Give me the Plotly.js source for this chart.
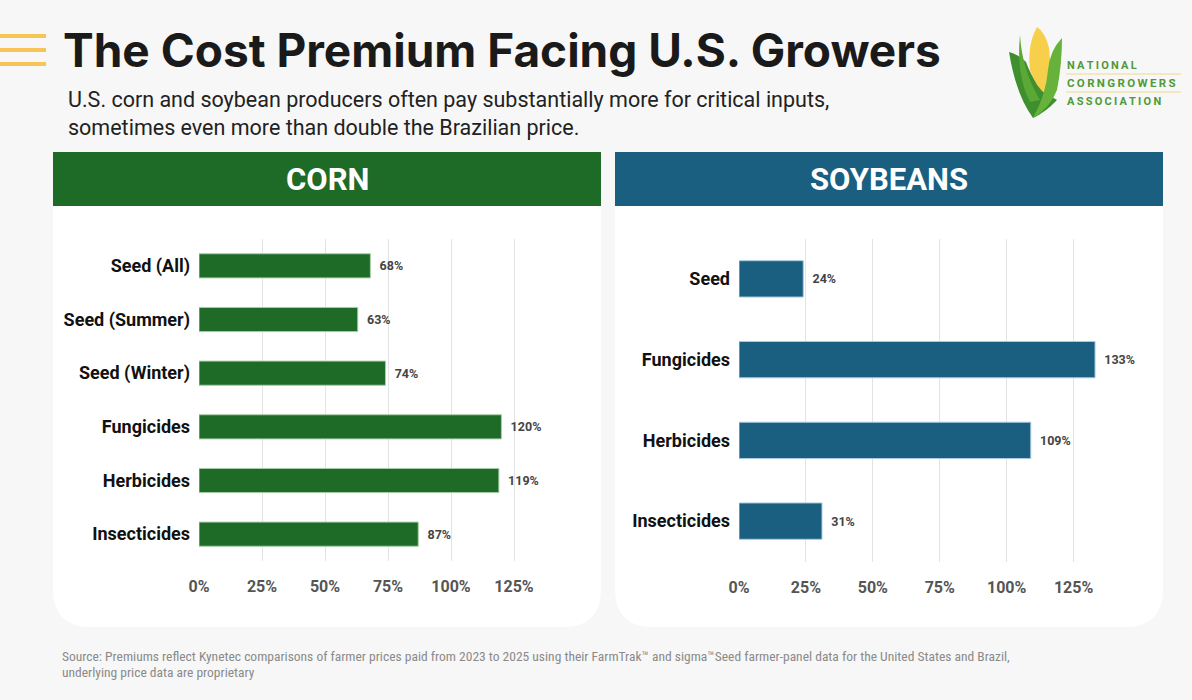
<!DOCTYPE html>
<html>
<head>
<meta charset="utf-8">
<script src="https://cdn.plot.ly/plotly-3.0.1.min.js"></script>
<style>
  html, body { margin: 0; padding: 0; background: #f7f7f7; }
  #chart { width: 1192px; height: 700px; }
</style>
</head>
<body>
<div id="chart"></div>
<script>
// ---- data ----
const cornCategories = ["Seed (All)", "Seed (Summer)", "Seed (Winter)", "Fungicides", "Herbicides", "Insecticides"];
const cornPremium = [68, 63, 74, 120, 119, 87];
const soyCategories = ["Seed", "Fungicides", "Herbicides", "Insecticides"];
const soyPremium = [24, 133, 109, 31];
const tickValues = [0, 25, 50, 75, 100, 125];
const tickLabels = ["0%", "25%", "50%", "75%", "100%", "125%"];

const titleText = "The Cost Premium Facing U.S. Growers";
const subtitleLines = ["U.S. corn and soybean producers often pay substantially more for critical inputs,",
                       "sometimes even more than double the Brazilian price."];
const cornHeader = "CORN";
const soyHeader = "SOYBEANS";
const sourceLines = ["Source: Premiums reflect Kynetec comparisons of farmer prices paid from 2023 to 2025 using their FarmTrak\u2122 and sigma\u2122Seed farmer-panel data for the United States and Brazil,",
                     "underlying price data are proprietary"];
const logoLines = ["NATIONAL", "CORNGROWERS", "ASSOCIATION"];

// ---- helpers (page pixels -> paper) ----
const W = 1192, H = 700;
const px = x => x / W;
const py = y => 1 - y / H;
function P(x, y) { return px(x).toFixed(5) + "," + py(y).toFixed(5); }

const CORN_GREEN = "#1d6b27";
const SOY_BLUE = "#1a5e80";
const FONT = "Roboto, 'DejaVu Sans', sans-serif";

function panelBody(x0, x1, y0, y1, r) {
  return "M" + P(x0, y0) + " L" + P(x1, y0) + " L" + P(x1, y1 - r) +
         " Q" + P(x1, y1) + " " + P(x1 - r, y1) + " L" + P(x0 + r, y1) +
         " Q" + P(x0, y1) + " " + P(x0, y1 - r) + " Z";
}
function rectPath(x0, y0, x1, y1) {
  return "M" + P(x0, y0) + " L" + P(x1, y0) + " L" + P(x1, y1) + " L" + P(x0, y1) + " Z";
}
function pathFrom(points) {
  return points.map(c => {
    if (c[0] === "Q") return "Q" + P(c[1], c[2]) + " " + P(c[3], c[4]);
    if (c[0] === "Z") return "Z";
    return c[0] + P(c[1], c[2]);
  }).join(" ");
}

const shapes = [];
// panels
shapes.push({type: "path", xref: "paper", yref: "paper", layer: "below", path: panelBody(53, 601, 206, 627, 38), fillcolor: "#ffffff", line: {width: 0}});
shapes.push({type: "path", xref: "paper", yref: "paper", layer: "below", path: panelBody(615, 1163, 206, 627, 38), fillcolor: "#ffffff", line: {width: 0}});
shapes.push({type: "path", xref: "paper", yref: "paper", layer: "below", path: rectPath(53, 152, 601, 206), fillcolor: CORN_GREEN, line: {width: 0}});
shapes.push({type: "path", xref: "paper", yref: "paper", layer: "below", path: rectPath(615, 152, 1163, 206), fillcolor: SOY_BLUE, line: {width: 0}});
// hamburger lines
[36, 50, 64].forEach(y => {
  shapes.push({type: "line", xref: "paper", yref: "paper", x0: px(0), x1: px(46), y0: py(y), y1: py(y), line: {color: "#f6c555", width: 4}});
});
// logo: corn icon
shapes.push({type: "path", xref: "paper", yref: "paper", path: pathFrom([["M",1009,52],["Q",1016,95,1033,118],["Q",1046,112,1057,100],["Q",1035,88,1026,62],["Q",1018,54,1009,52],["Z"]]), fillcolor: "#3f8f2f", line: {width: 0}});
shapes.push({type: "path", xref: "paper", yref: "paper", path: pathFrom([["M",1037,27],["Q",1027,45,1030,70],["Q",1036,88,1047,95],["Q",1052,70,1049,48],["Q",1045,32,1037,27],["Z"]]), fillcolor: "#f7cf4a", line: {width: 0}});
shapes.push({type: "path", xref: "paper", yref: "paper", path: pathFrom([["M",1062,38],["Q",1050,50,1048,70],["Q",1046,95,1033,118],["Q",1050,108,1057,90],["Q",1062,65,1062,38],["Z"]]), fillcolor: "#66b23a", line: {width: 0}});
shapes.push({type: "path", xref: "paper", yref: "paper", path: pathFrom([["M",1020,35],["Q",1022,70,1040,100],["Q",1030,102,1030,102],["Q",1016,75,1020,35],["Z"]]), fillcolor: "#5aa836", line: {width: 0}});
// logo rules
[74, 92].forEach(y => {
  shapes.push({type: "line", xref: "paper", yref: "paper", x0: px(1066), x1: px(1181), y0: py(y), y1: py(y), line: {color: "#f1d98a", width: 1}});
});

const annotations = [];
annotations.push({xref: "paper", yref: "paper", x: px(61), y: py(50), xanchor: "left", yanchor: "middle", showarrow: false,
  text: "<b>" + titleText + "</b>", font: {family: "Inter, Roboto, sans-serif", size: 46, color: "#1a1a1a"}});
subtitleLines.forEach((t, i) => {
  annotations.push({xref: "paper", yref: "paper", x: px(66), y: py(100 + i * 28), xanchor: "left", yanchor: "middle", showarrow: false,
    text: t, font: {family: FONT, size: 21.5, color: "#222222"}});
});
annotations.push({xref: "paper", yref: "paper", x: px(327), y: py(180), xanchor: "center", yanchor: "middle", showarrow: false,
  text: "<b>" + cornHeader + "</b>", font: {family: FONT, size: 31, color: "#ffffff"}});
annotations.push({xref: "paper", yref: "paper", x: px(889), y: py(180), xanchor: "center", yanchor: "middle", showarrow: false,
  text: "<b>" + soyHeader + "</b>", font: {family: FONT, size: 31, color: "#ffffff"}});
sourceLines.forEach((t, i) => {
  annotations.push({xref: "paper", yref: "paper", x: px(60), y: py(656 + i * 16), xanchor: "left", yanchor: "middle", showarrow: false,
    text: t, font: {family: "'Liberation Sans Narrow', 'Roboto Condensed', Roboto, sans-serif", size: 13.5, color: "#8a8a8a"}});
});
const spread = (s, sep) => s.split("").join(sep);
logoLines.forEach((t, i) => {
  annotations.push({xref: "paper", yref: "paper", x: px(1065), y: py(65 + i * 18), xanchor: "left", yanchor: "middle", showarrow: false,
    text: "<b>" + spread(t, i === 1 ? "\u2009" : "\u2009") + "</b>", font: {family: FONT, size: i === 1 ? 11.5 : 11, color: "#4f9a37"}});
});

const xCommon = {range: [0, 140], tickvals: tickValues, ticktext: tickLabels, showgrid: true, gridcolor: "#e3e3e3", gridwidth: 1,
  zeroline: false, showline: false, ticks: "", ticklabelstandoff: 14, fixedrange: true,
  tickfont: {family: FONT, size: 16, color: "#555555", weight: 700}};
const yCommon = {showgrid: false, zeroline: false, showline: false, ticks: "", ticklabelstandoff: 8, fixedrange: true,
  tickfont: {family: FONT, size: 18, color: "#111111", weight: 700}, type: "category"};

const traces = [
  {type: "bar", orientation: "h", x: cornPremium, y: cornCategories, xaxis: "x", yaxis: "y", width: 0.45,
   marker: {color: CORN_GREEN, line: {color: "#a9cda9", width: 1}},
   texttemplate: "\u00a0\u00a0%{x}%", textposition: "outside", cliponaxis: false,
   textfont: {family: FONT, size: 12.5, color: "#444444", weight: 700}, hoverinfo: "skip"},
  {type: "bar", orientation: "h", x: soyPremium, y: soyCategories, xaxis: "x2", yaxis: "y2", width: 0.45,
   marker: {color: SOY_BLUE, line: {color: "#a8cbe0", width: 1}},
   texttemplate: "\u00a0\u00a0%{x}%", textposition: "outside", cliponaxis: false,
   textfont: {family: FONT, size: 12.5, color: "#444444", weight: 700}, hoverinfo: "skip"}
];

const layout = {
  width: W, height: H,
  margin: {l: 0, r: 0, t: 0, b: 0},
  paper_bgcolor: "#f7f7f7",
  plot_bgcolor: "rgba(0,0,0,0)",
  showlegend: false,
  xaxis: Object.assign({}, xCommon, {domain: [px(199), px(199 + 140 * 2.52)], anchor: "y"}),
  yaxis: Object.assign({}, yCommon, {domain: [py(561), py(239)], anchor: "x", categoryorder: "array", categoryarray: cornCategories, range: [5.5, -0.5]}),
  xaxis2: Object.assign({}, xCommon, {domain: [px(739), px(739 + 140 * 2.677)], anchor: "y2"}),
  yaxis2: Object.assign({}, yCommon, {domain: [py(561.5), py(238.5)], anchor: "x2", categoryorder: "array", categoryarray: soyCategories, range: [3.5, -0.5]}),
  shapes: shapes,
  annotations: annotations
};

Plotly.newPlot("chart", traces, layout, {displayModeBar: false, staticPlot: true});
</script>
</body>
</html>
